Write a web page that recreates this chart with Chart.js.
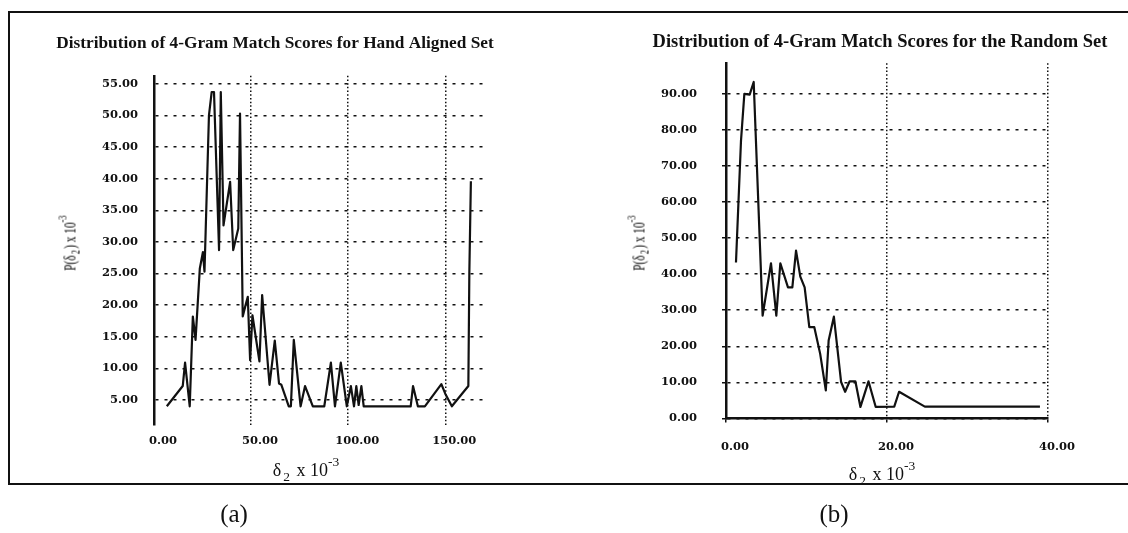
<!DOCTYPE html>
<html>
<head>
<meta charset="utf-8">
<script src="https://cdn.jsdelivr.net/npm/chart.js@4.4.0/dist/chart.umd.min.js"></script>
<style>
  html, body { margin: 0; padding: 0; background: #fff; }
  #wrap { position: relative; width: 1128px; height: 533px; overflow: hidden; background: #fff; }
  #frame { position: absolute; left: 8px; top: 11px; width: 1140px; height: 474px;
           border: 2.5px solid #111; box-sizing: border-box; }
  .box { position: absolute; top: 0; height: 533px; }
  .xlab { position: absolute; transform: translate(-50%, -50%); white-space: nowrap;
          font-family: "Liberation Serif", serif; font-size: 18px; color: #111; }
  .ylab { position: absolute; transform: translate(-50%, -50%) rotate(-90deg) scale(0.75, 1.15); white-space: nowrap;
          font-family: "Liberation Serif", serif; font-size: 15px; color: #000; }
  .sub { font-size: 0.75em; position: relative; top: 0.35em; margin: 0 0.15em; }
  .sup { font-size: 0.75em; position: relative; top: -0.75em; }
  .tag { position: absolute; transform: translate(-50%, -50%); font-family: "Liberation Serif", serif;
         font-size: 25px; color: #111; }
</style>
</head>
<body>
<div id="wrap">
  <div id="frame"></div>
  <div class="box" style="left:0; width:550px;"><canvas id="chartA"></canvas></div>
  <div class="box" style="left:632px; width:496px;"><canvas id="chartB"></canvas></div>

  <div class="ylab" style="left:70px; top:243px;">P(&delta;<span class="sub">2</span>) x 10<span class="sup">-3</span></div>
  <div class="xlab" style="left:306px; top:470px;">&delta;<span class="sub">2</span> x 10<span class="sup">-3</span></div>

  <div class="ylab" style="left:639px; top:243px;">P(&delta;<span class="sub">2</span>) x 10<span class="sup">-3</span></div>
  <div class="xlab" style="left:882px; top:474px;">&delta;<span class="sub">2</span> x 10<span class="sup">-3</span></div>

  <div class="tag" style="left:234px; top:514px;">(a)</div>
  <div class="tag" style="left:834px; top:514px;">(b)</div>
</div>

<script>
// hand aligned set (a)
const titleA = "Distribution of 4-Gram Match Scores for Hand Aligned Set";
const xA = [6.6, 14.8, 16.0, 18.4, 20.0, 21.4, 23.6, 25.2, 26.0, 26.6, 28.3, 29.7, 30.9, 33.5, 34.4, 35.8, 39.2, 40.8, 43.4, 44.3,
            45.7, 47.0, 48.3, 49.5, 50.7, 54.3, 55.7, 59.5, 62.2, 64.4, 65.6, 69.4, 70.5, 72.0, 75.5, 77.8, 81.8, 87.7, 91.1, 93.2,
            96.2, 99.3, 101.4, 103.0, 104.2, 105.4, 106.8, 108.0, 132.2, 133.4, 135.9, 139.5, 148.0, 150.0, 153.4, 161.9, 162.4, 163.2];
const yA = [4.0, 7.2, 10.9, 4.0, 18.2, 14.5, 25.8, 28.4, 25.3, 31.6, 50.0, 53.7, 53.7, 28.7, 53.7, 32.6, 39.5, 28.7, 32.1, 50.3,
            18.2, 19.8, 21.3, 11.3, 18.4, 11.1, 21.6, 7.4, 14.4, 7.6, 7.4, 4.0, 4.0, 14.5, 4.0, 7.2, 4.0, 4.0, 10.9, 4.0,
            10.9, 4.0, 7.2, 4.0, 7.2, 4.2, 7.2, 4.0, 4.0, 7.2, 4.0, 4.0, 7.5, 6.0, 4.0, 7.2, 25.0, 39.6];
const xTicksA = [0, 50, 100, 150];
const yTicksA = [5, 10, 15, 20, 25, 30, 35, 40, 45, 50, 55];

// random set (b)
const titleB = "Distribution of 4-Gram Match Scores for the Random Set";
const xB = [1.24, 1.86, 2.28, 2.94, 3.44, 4.55, 5.59, 6.25, 6.75, 7.7, 8.24, 8.7, 9.23, 9.77, 10.35, 10.97,
            11.7, 12.4, 12.75, 13.4, 14.3, 14.8, 15.36, 16.07, 16.7, 17.7, 18.6, 20.9, 21.5, 24.7, 39.0];
const yB = [43.2, 76.8, 89.9, 89.7, 93.2, 28.5, 43.0, 28.5, 43.0, 36.3, 36.3, 46.5, 39.3, 36.3, 25.3, 25.3,
            17.9, 7.8, 21.6, 28.2, 10.1, 7.4, 10.3, 10.3, 3.2, 10.3, 3.2, 3.3, 7.4, 3.3, 3.3];
const xTicksB = [0, 20, 40];
const yTicksB = [0, 10, 20, 30, 40, 50, 60, 70, 80, 90];

const ink = "#111";
const tickFont = { family: "'DejaVu Serif', serif", size: 11.5, weight: "bold" };

function points(xs, ys) {
    return xs.map((x, i) => ({ x: x, y: ys[i] }));
}

function fixedTicks(list) {
    return (scale) => { scale.ticks = list.map(v => ({ value: v })); };
}

function makeChart(id, cfg) {
    return new Chart(document.getElementById(id), {
        type: "line",
        data: {
            datasets: [{
                data: points(cfg.xs, cfg.ys),
                borderColor: ink,
                borderWidth: 2.2,
                borderJoinStyle: "round",
                pointRadius: 0,
                tension: 0,
                fill: false
            }]
        },
        options: {
            responsive: true,
            maintainAspectRatio: false,
            animation: false,
            layout: { padding: 0 },
            plugins: {
                legend: { display: false },
                tooltip: { enabled: false },
                title: {
                    display: true,
                    text: cfg.title,
                    color: ink,
                    font: { family: "'Liberation Serif', serif", size: cfg.titleSize, weight: "bold" },
                    padding: { top: cfg.titleTop, bottom: cfg.titleBottom }
                }
            },
            scales: {
                x: {
                    type: "linear",
                    min: 0,
                    max: cfg.xMax,
                    afterBuildTicks: fixedTicks(cfg.xTicks),
                    afterFit: (s) => { s.height = cfg.xHeight; },
                    ticks: {
                        color: ink, font: tickFont, padding: cfg.xPad, labelOffset: 9,
                        maxRotation: 0, autoSkip: false,
                        callback: (v) => v.toFixed(2)
                    },
                    grid: { color: ink, lineWidth: 1.5, drawTicks: cfg.ticksOut, tickLength: 4, tickColor: ink, tickWidth: 1.5 },
                    border: { display: cfg.xAxisLine, color: ink, width: 2.5, dash: [1.5, 2.2] }
                },
                y: {
                    min: cfg.yMin,
                    max: cfg.yMax,
                    afterBuildTicks: fixedTicks(cfg.yTicks),
                    afterFit: (s) => { s.width = cfg.yWidth; },
                    ticks: {
                        color: ink, font: tickFont, padding: cfg.yPad, autoSkip: false,
                        callback: (v) => v.toFixed(2)
                    },
                    grid: { color: ink, lineWidth: 1.5, drawTicks: cfg.ticksOut, tickLength: 4, tickColor: ink, tickWidth: 1.5 },
                    border: { display: true, color: ink, width: 2.5, dash: [3, 6] }
                },
                // empty right axis, only keeps the margin on the right
                spare: {
                    position: "right",
                    min: 0,
                    max: 1,
                    afterFit: (s) => { s.width = cfg.rightGap; },
                    ticks: { display: false },
                    grid: { display: false },
                    border: { display: false }
                }
            }
        }
    });
}

makeChart("chartA", {
    xs: xA, ys: yA, title: titleA, titleSize: 17.3, titleTop: 33, titleBottom: 22,
    yWidth: 154, rightGap: 63, xHeight: 108,
    xMax: 171.5, yMin: 1.04, yMax: 56.27,
    xTicks: xTicksA, yTicks: yTicksA,
    xPad: 9, yPad: 16, ticksOut: false, xAxisLine: false
});

makeChart("chartB", {
    xs: xB, ys: yB, title: titleB, titleSize: 18.5, titleTop: 31, titleBottom: 10,
    yWidth: 94, rightGap: 80, xHeight: 114.5,
    xMax: 40, yMin: 0, yMax: 98.4,
    xTicks: xTicksB, yTicks: yTicksB,
    xPad: 18, yPad: 25, ticksOut: true, xAxisLine: true
});
</script>
</body>
</html>
